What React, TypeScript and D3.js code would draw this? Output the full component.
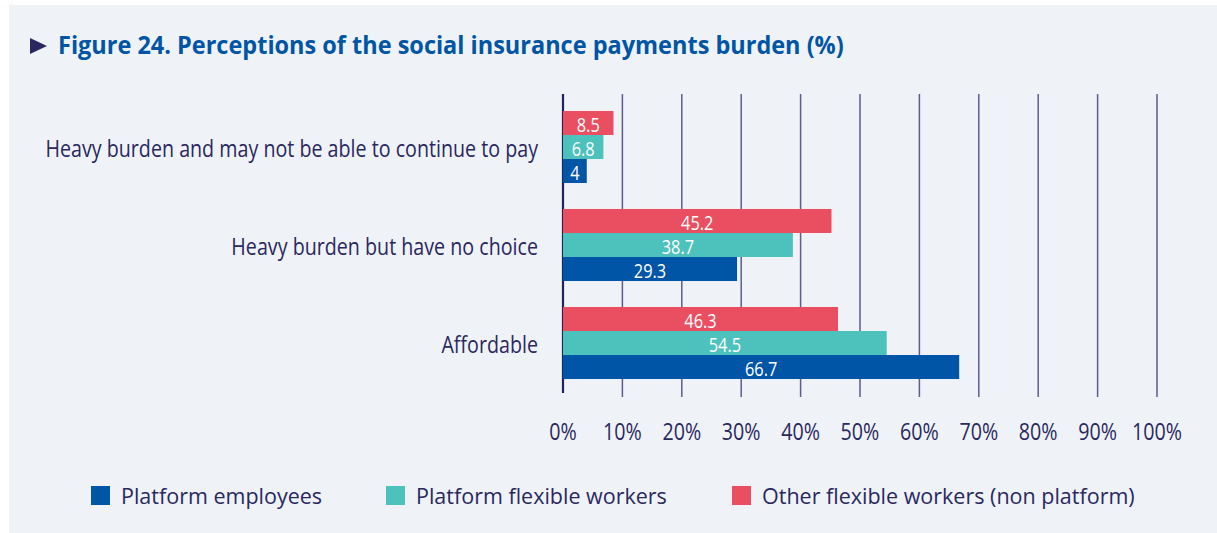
import React from "react";
import * as d3 from "d3";

const categories = [
  "Heavy burden and may not be able to continue to pay",
  "Heavy burden but have no choice",
  "Affordable",
];
const seriesNames = [
  "Platform employees",
  "Platform flexible workers",
  "Other flexible workers (non platform)",
];
const platformEmployees = [4, 29.3, 66.7];
const platformFlexible = [6.8, 38.7, 54.5];
const otherFlexible = [8.5, 45.2, 46.3];
const seriesColors = ["#0055a6", "#4dc2bd", "#ea4f61"];
const xTicks = [0, 10, 20, 30, 40, 50, 60, 70, 80, 90, 100];

const W = 1217;
const H = 533;
const NAVY = "#2a285f";
const FONT = "'Open Sans', 'Noto Sans', sans-serif";
const SQ = 0.82; // horizontal condensing factor

export default function App() {
  const values = [platformEmployees, platformFlexible, otherFlexible];
  const x = d3.scaleLinear().domain([0, 100]).range([563, 1157]);
  const y = d3
    .scaleBand<string>()
    .domain(categories)
    .range([98, 392])
    .paddingInner(0.265)
    .paddingOuter(0.1325);
  // red on top, then teal, then blue
  const inner = d3
    .scaleBand<number>()
    .domain([2, 1, 0])
    .range([0, y.bandwidth()]);

  return (
    <svg
      width={W}
      height={H}
      style={{ position: "absolute", left: 0, top: 0 }}
      fontFamily={FONT}
    >
      <rect x={0} y={0} width={W} height={H} fill="#ffffff" />
      <rect x={9} y={5} width={W - 9} height={H - 5} fill="#eff3f7" />

      {/* title */}
      <path d="M30,38 L30,54 L47,46 Z" fill={NAVY} />
      <g transform="translate(58,54) scale(0.94,1)">
        <text x={0} y={0} fontSize={25} fontWeight={700} fill="#0055a4">
          Figure 24. Perceptions of the social insurance payments burden (%)
        </text>
      </g>

      {/* gridlines */}
      {xTicks.map((t) => (
        <line
          key={"g" + t}
          x1={x(t)}
          x2={x(t)}
          y1={94}
          y2={t === 0 ? 393 : 397}
          stroke={t === 0 ? "#23215a" : "#5e5c8c"}
          strokeWidth={t === 0 ? 2.2 : 1.5}
        />
      ))}

      {/* bars */}
      {categories.map((c, ci) => (
        <g key={c}>
          {values.map((vals, si) => {
            const by = (y(c) as number) + (inner(si) as number);
            const bh = inner.bandwidth();
            const v = vals[ci];
            const cx = (x(0) + x(v)) / 2;
            return (
              <g key={si}>
                <rect
                  x={x(0)}
                  y={by}
                  width={x(v) - x(0)}
                  height={bh}
                  fill={seriesColors[si]}
                />
                <g transform={`translate(${cx},${by + bh - 3}) scale(${SQ},1)`}>
                  <text
                    x={0}
                    y={0}
                    textAnchor="middle"
                    fontSize={20}
                    fill="#ffffff"
                  >
                    {v}
                  </text>
                </g>
              </g>
            );
          })}
          <g
            transform={`translate(538,${
              (y(c) as number) + y.bandwidth() / 2 + 10
            }) scale(${SQ},1)`}
          >
            <text x={0} y={0} textAnchor="end" fontSize={24} fill={NAVY}>
              {c}
            </text>
          </g>
        </g>
      ))}

      {/* x tick labels */}
      {xTicks.map((t) => (
        <g key={"t" + t} transform={`translate(${x(t)},440) scale(${SQ},1)`}>
          <text x={0} y={0} textAnchor="middle" fontSize={24} fill={NAVY}>
            {t + "%"}
          </text>
        </g>
      ))}

      {/* legend */}
      {seriesNames.map((n, i) => {
        const lx = [91, 386, 732][i];
        return (
          <g key={n}>
            <rect x={lx} y={486} width={19} height={19} fill={seriesColors[i]} />
            <text x={lx + 30} y={504} fontSize={21.5} fill={NAVY}>
              {n}
            </text>
          </g>
        );
      })}
    </svg>
  );
}
